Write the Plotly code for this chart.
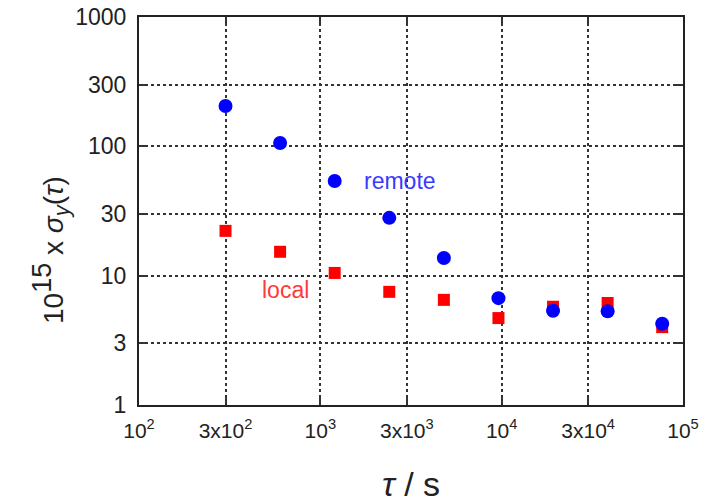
import plotly.graph_objects as go

tau = [300, 600, 1200, 2400, 4800, 9600, 19200, 38400, 76800]
remote = [205, 106, 54, 28, 13.7, 6.7, 5.35, 5.3, 4.25]
local = [22.2, 15.3, 10.5, 7.5, 6.5, 4.7, 5.75, 6.15, 4.0]

x_tickvals = [100, 300, 1000, 3000, 10000, 30000, 100000]
x_ticktext = ["10<sup>2</sup>", "3x10<sup>2</sup>", "10<sup>3</sup>", "3x10<sup>3</sup>",
              "10<sup>4</sup>", "3x10<sup>4</sup>", "10<sup>5</sup>"]
y_tickvals = [1, 3, 10, 30, 100, 300, 1000]
y_ticktext = ["1", "3", "10", "30", "100", "300", "1000"]

FONT = "Liberation Sans, Arial"

W, H = 701, 502
L, T, R, B = 139, 17, 18, 97

fig = go.Figure()
fig.add_trace(go.Scatter(x=tau, y=local, mode="markers", name="local",
                         marker=dict(symbol="square", size=12, color="#ff0000")))
fig.add_trace(go.Scatter(x=tau, y=remote, mode="markers", name="remote",
                         marker=dict(symbol="circle", size=14, color="#0000ff")))

axis_common = dict(
    type="log", showline=True, linecolor="#222222", linewidth=2, mirror="allticks",
    ticks="inside", ticklen=7, tickwidth=2, tickcolor="#333333",
    showgrid=True, gridcolor="#333333", griddash="dot", gridwidth=1.5,
    zeroline=False, automargin=False, ticklabeloverflow="allow",
)

fig.update_xaxes(range=[2, 5], tickmode="array", tickvals=x_tickvals, ticktext=x_ticktext,
                 ticklabelstandoff=6, tickfont=dict(family=FONT, size=21, color="#222222"),
                 **axis_common)
fig.update_yaxes(range=[0, 3], tickmode="array", tickvals=y_tickvals, ticktext=y_ticktext,
                 ticklabelstandoff=6, tickfont=dict(family=FONT, size=23, color="#222222"),
                 **axis_common)

fig.add_annotation(text="remote", x=3.44, y=1.73, xref="x", yref="y", showarrow=False,
                   font=dict(family=FONT, size=23, color="#3a3aff"))
fig.add_annotation(text="local", x=2.81, y=0.89, xref="x", yref="y", showarrow=False,
                   font=dict(family=FONT, size=23, color="#ff3a3a"))

fig.add_annotation(
    text="10<sup><span style='font-size:27px'>15</span></sup> x <i>σ<sub><span style='font-size:22px'>y</span></sub></i>(<i>τ</i>)",
    x=50, y=250, xref="paper", yref="paper", showarrow=False, textangle=-90,
    font=dict(family=FONT, size=28, color="#222222"))
fig.add_annotation(text="<i>τ</i> / s", x=411, y=484, xref="paper", yref="paper",
                   showarrow=False,
                   font=dict(family=FONT, size=34, color="#222222"))

fig.update_layout(
    width=W, height=H, showlegend=False,
    margin=dict(l=L, r=R, t=T, b=B),
    plot_bgcolor="white", paper_bgcolor="white",
)

# convert window-pixel annotation positions to paper coordinates
pw = W - L - R
ph = H - T - B
for ann in fig.layout.annotations:
    if ann.xref == "paper" and ann.x > 1:
        px, py = ann.x, ann.y
        ann.x = (px - L) / pw
        ann.y = (H - B - py) / ph
        ann.xanchor = "center"
        ann.yanchor = "middle"

fig.write_html("out.html", config={"displayModeBar": False},
               post_script="document.body.style.margin='0';document.body.style.overflow='hidden';")
